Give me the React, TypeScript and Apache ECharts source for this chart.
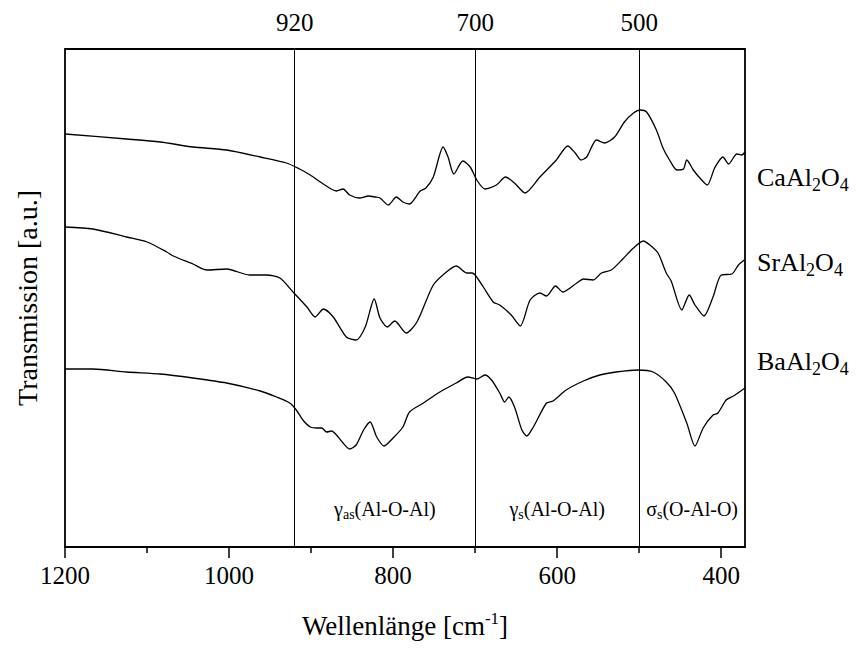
import React, { useEffect, useRef } from "react";
import * as echarts from "echarts";

const FONT = "Liberation Serif";

// wavenumber axis [cm^-1]
const xMin = 371;
const xMax = 1200;
const majorTicks = [1200, 1000, 800, 600, 400];
const minorTicks = [1100, 900, 700, 500];
const bandLines = [920, 700, 500];
const bandNames = ["as(Al-O-Al)", "s(Al-O-Al)", "s(O-Al-O)"];
const bandSymbols = ["γ", "γ", "σ"];

// CaAl2O4
const caX = [1200, 1125, 1084, 1044, 1003, 962, 930, 914, 901, 885, 869, 861, 853, 841, 830, 822, 816, 806, 796, 788, 780, 767, 760, 751, 739, 733, 726, 715, 706, 698, 688, 674, 663, 652, 639, 621, 601, 587, 578, 571, 564, 552, 542, 530, 518, 507, 499, 491, 479, 471, 463, 454, 446, 442, 434, 426, 417, 408, 398, 391, 381, 375, 371];
const caY = [413, 408, 405, 400, 397, 390, 384, 378, 372, 363, 356, 358, 352, 349, 351, 350, 349, 342, 350, 345, 343, 356, 359, 370, 400, 390, 373, 386, 380, 367, 358, 362, 370, 364, 354, 370, 387, 401, 394, 387, 390, 407, 404, 410, 425, 434, 437, 435, 417, 399, 387, 377, 378, 387, 377, 369, 362, 379, 390, 383, 393, 392, 395];

// SrAl2O4
const srX = [1200, 1166, 1125, 1100, 1076, 1068, 1044, 1027, 1003, 975, 954, 938, 922, 914, 905, 895, 885, 873, 857, 845, 834, 823, 816, 807, 798, 784, 771, 751, 735, 723, 710, 704, 700, 690, 678, 670, 656, 645, 633, 621, 613, 602, 593, 576, 568, 556, 546, 534, 520, 507, 495, 487, 477, 467, 461, 448, 439, 432, 421, 410, 400, 387, 379, 372];
const srY = [320, 318, 310, 305, 295, 291, 283, 277, 278, 272, 272, 269, 255, 248, 240, 230, 238, 230, 210, 207, 220, 248, 229, 220, 226, 214, 225, 262, 275, 281, 274, 274, 272, 260, 245, 242, 232, 221, 247, 254, 251, 261, 255, 264, 268, 267, 274, 277, 288, 299, 306, 302, 294, 274, 266, 237, 252, 242, 231, 250, 272, 273, 282, 287];

// BaAl2O4
const baX = [1200, 1166, 1125, 1084, 1044, 1003, 962, 942, 926, 918, 910, 901, 893, 887, 881, 875, 869, 861, 853, 845, 836, 828, 820, 811, 800, 788, 780, 763, 743, 723, 709, 698, 688, 680, 670, 664, 659, 652, 643, 637, 629, 613, 605, 589, 568, 548, 528, 501, 483, 467, 457, 442, 432, 422, 410, 404, 394, 385, 371];
const baY = [178, 178, 175, 173, 169, 164, 156, 150, 144, 137, 127, 120, 119, 119, 115, 116, 112, 104, 98, 102, 117, 125, 110, 101, 109, 120, 135, 144, 155, 164, 170, 168, 172, 167, 154, 145, 150, 140, 117, 111, 120, 144, 146, 157, 166, 172, 175, 177, 175, 165, 154, 124, 101, 119, 132, 134, 147, 151, 159];

const seriesNames = ["CaAl2O4", "SrAl2O4", "BaAl2O4"];
const yMin = 0;
const yMax = 498;

const zip = (xs: number[], ys: number[]) => xs.map((x, i) => [x, ys[i]]);

export default function App() {
  const ref = useRef<HTMLDivElement>(null);
  useEffect(() => {
    if (!ref.current) return;
    const chart = echarts.init(ref.current, null, { renderer: "svg" });
    const lineStyle = { color: "#000", width: 1.3 };
    const xBase = {
      type: "value" as const,
      min: xMin,
      max: xMax,
      inverse: true,
      splitLine: { show: false },
      axisLine: { show: false },
    };
    const rich = {
      m: { fontFamily: FONT, fontSize: 26, color: "#000" },
      s: { fontFamily: FONT, fontSize: 18, color: "#000", padding: [15, 0, 0, 0] },
    };
    const compLabel = (name: string, y: number) => {
      const m = name.match(/^([A-Za-z]+)(\d)([A-Za-z]+)(\d)$/)!;
      return {
        type: "text",
        left: 757,
        top: y,
        style: {
          text: `{m|${m[1]}}{s|${m[2]}}{m|${m[3]}}{s|${m[4]}}`,
          rich,
        },
      };
    };
    const bandRich = {
      g: { fontFamily: FONT, fontSize: 20, color: "#000" },
      b: { fontFamily: FONT, fontSize: 14, color: "#000", padding: [11, 0, 0, 0] },
    };
    chart.setOption({
      animation: false,
      backgroundColor: "#fff",
      grid: {
        left: 65,
        right: 123,
        top: 49,
        bottom: 101,
        show: true,
        borderColor: "#000",
        borderWidth: 1.8,
        backgroundColor: "transparent",
      },
      xAxis: [
        {
          ...xBase,
          position: "bottom",
          axisTick: { show: true, customValues: majorTicks, length: 11, lineStyle: { color: "#000", width: 1.5 } },
          axisLabel: {
            customValues: majorTicks,
            formatter: (v: number) => String(v),
            fontFamily: FONT,
            fontSize: 25,
            color: "#000",
            margin: 16,
          },
        },
        {
          ...xBase,
          position: "bottom",
          axisTick: { show: true, customValues: minorTicks, length: 6, lineStyle: { color: "#000", width: 1.5 } },
          axisLabel: { show: false },
        },
        {
          ...xBase,
          position: "top",
          axisTick: { show: false },
          axisLabel: {
            customValues: bandLines,
            formatter: (v: number) => String(v),
            fontFamily: FONT,
            fontSize: 25,
            color: "#000",
            margin: 14,
          },
        },
      ],
      yAxis: {
        type: "value",
        min: yMin,
        max: yMax,
        axisLine: { show: false },
        axisTick: { show: false },
        axisLabel: { show: false },
        splitLine: { show: false },
      },
      series: [
        {
          name: seriesNames[0],
          type: "line",
          data: zip(caX, caY),
          showSymbol: false,
          smooth: 0.25,
          lineStyle,
          markLine: {
            silent: true,
            symbol: ["none", "none"],
            label: { show: false },
            lineStyle: { color: "#000", width: 1, type: "solid" },
            data: bandLines.map((v) => ({ xAxis: v })),
          },
          markArea: {
            silent: true,
            itemStyle: { color: "transparent" },
            label: {
              show: true,
              position: "insideBottom",
              distance: 26,
              rich: bandRich,
            },
            data: bandLines.map((v, i) => [
              {
                xAxis: v,
                label: { formatter: `{g|${bandSymbols[i]}}{b|${bandNames[i].split("(")[0]}}{g|(${bandNames[i].split("(")[1]}}` },
              },
              { xAxis: i < bandLines.length - 1 ? bandLines[i + 1] : xMin },
            ]),
          },
        },
        { name: seriesNames[1], type: "line", data: zip(srX, srY), showSymbol: false, smooth: 0.25, lineStyle },
        { name: seriesNames[2], type: "line", data: zip(baX, baY), showSymbol: false, smooth: 0.25, lineStyle },
      ],
      graphic: [
        compLabel(seriesNames[0], 164),
        compLabel(seriesNames[1], 249),
        compLabel(seriesNames[2], 348),
        {
          type: "text",
          x: 27,
          y: 298,
          rotation: Math.PI / 2,
          style: {
            text: "Transmission [a.u.]",
            fontFamily: FONT,
            fontSize: 28,
            fill: "#000",
            align: "center",
            verticalAlign: "middle",
          },
        },
        {
          type: "text",
          x: 405,
          y: 626,
          style: {
            text: "{m|Wellenlänge [cm}{p|-1}{m|]}",
            align: "center",
            verticalAlign: "middle",
            rich: {
              m: { fontFamily: FONT, fontSize: 27, color: "#000" },
              p: { fontFamily: FONT, fontSize: 17, color: "#000", padding: [0, 0, 15, 0] },
            },
          },
        },
      ],
    });
    return () => chart.dispose();
  }, []);
  return (
    <div
      ref={ref}
      style={{ position: "fixed", left: 0, top: 0, width: 868, height: 648, background: "#fff" }}
    />
  );
}
